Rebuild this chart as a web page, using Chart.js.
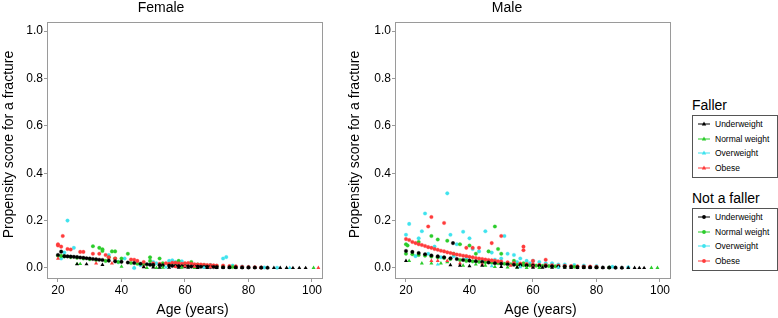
<!DOCTYPE html>
<html>
<head>
<meta charset="utf-8">
<script src="https://cdn.jsdelivr.net/npm/chart.js@4/dist/chart.umd.min.js"></script>
<style>
    body { margin: 0; background: #fff; font-family: "Liberation Sans", Arial, sans-serif; }
    #wrap { position: relative; width: 778px; height: 318px; overflow: hidden; }
    canvas { position: absolute; top: 0; }
    .lg-title { position: absolute; left: 692px; font-size: 14px; color: #000; line-height: 16px; }
    .lg-box { position: absolute; left: 692px; width: 84px; height: 61px; border: 1px solid #555; }
    .lg-row { position: absolute; left: 5px; height: 12px; font-size: 8.5px; color: #000; line-height: 12px; white-space: nowrap; }
    .lg-row svg { position: absolute; left: 0; top: 0; }
    .lg-row span { position: absolute; left: 17px; top: 0; }
</style>
</head>
<body>
<div id="wrap">
    <canvas id="female" width="335" height="318" style="left:0px"></canvas>
    <canvas id="male" width="340" height="318" style="left:344px"></canvas>
    <div id="legend"></div>
</div>
<script>
// Axis settings
const xTicks = [20, 40, 60, 80, 100];
const yTicks = [0, 0.2, 0.4, 0.6, 0.8, 1.0];
const groups = ['Underweight', 'Normal weight', 'Overweight', 'Obese'];
const groupColors = ['#000000', '#2bcc2b', '#3fe3ee', '#ff3b3b'];

// Female - fallers (triangles), [age, score]
const femaleFallerUnder = [[26,0.016],[29,0.016],[34,0.013],[47,0.004],[50,0.003],[52,0.002],[55,0.002],[58,0.002],[61,0.002],[64,0.001],[67,0.001],[70,0.001],[72,0.001],[74,0.001],[76,0.001],[78,0.001],[80,0.001],[82,0.001],[84,0.001],[86,0.001],[88,0.0005],[90,0.0005],[92,0.0005],[94,0.0003],[96,0.0003],[98,0.0002]];
const femaleFallerNormal = [[26,0.017],[27,0.017],[40,0.006],[48,0.001],[51,0.001],[53,0.002],[59,0.002],[63,0.001],[100.5,0.0005]];
const femaleFallerOver = [[44,0.001],[54,0.003],[66,0.002],[93,0.001]];
const femaleFallerObese = [[20,0.04],[32,0.02],[37,0.02],[47,0.006],[57,0.005],[60,0.008],[63,0.006],[68,0.004],[102,0.0005]];

// Female - non-fallers (dots)
const femaleNonUnder = [[20,0.055],[21,0.069],[22,0.05],[23,0.049],[24,0.048],[25,0.047],[26,0.046],[27,0.044],[28,0.043],[29,0.041],[30,0.04],[31,0.038],[32,0.037],[33,0.035],[34,0.034],[36,0.031],[38,0.028],[40,0.026],[42,0.023],[44,0.021],[46,0.018],[48,0.016],[49,0.014],[50,0.013],[52,0.012],[53,0.011],[55,0.01],[56,0.009],[57,0.008],[58,0.008],[59,0.007],[60,0.007],[61,0.007],[62,0.006],[63,0.006],[64,0.006],[65,0.005],[66,0.005],[67,0.005],[68,0.004],[69,0.004],[70,0.004],[72,0.003],[74,0.003],[76,0.003],[78,0.002],[80,0.002],[82,0.002],[84,0.0015],[86,0.001]];
const femaleNonNormal = [[20,0.052],[21,0.051],[22,0.049],[24,0.046],[26,0.043],[28,0.04],[30,0.037],[31,0.092],[32,0.034],[33,0.085],[34,0.079],[34,0.072],[35,0.03],[36,0.045],[37,0.07],[38,0.07],[38,0.04],[39,0.025],[40,0.04],[42,0.06],[43,0.021],[45,0.018],[47,0.015],[49,0.045],[49,0.03],[50,0.012],[52,0.04],[53,0.02],[55,0.015],[57,0.02],[58,0.03],[60,0.018],[62,0.025],[64,0.015],[66,0.012],[68,0.01],[70,0.008],[72,0.006],[75,0.004]];
const femaleNonOver = [[21,0.04],[22,0.065],[23,0.2],[25,0.085],[36,0.055],[39,0.025],[41,0.04],[44,0.0],[46,0.012],[49,0.015],[50,0.025],[51,0.02],[53,0.01],[55,0.03],[56,0.032],[57,0.025],[58,0.02],[59,0.028],[60,0.015],[62,0.02],[64,0.012],[65,0.01],[68,0.012],[70,0.008],[72,0.04],[73,0.046],[75,0.01],[78,0.006],[80,0.004],[85,0.002],[89,0.001]];
const femaleNonObese = [[20,0.1],[20,0.095],[21,0.09],[21.5,0.135],[23,0.08],[24,0.078],[27,0.068],[28,0.068],[31,0.06],[33,0.06],[35,0.055],[36,0.045],[38,0.04],[43,0.036],[44,0.035],[45,0.03],[47,0.025],[50,0.02],[52,0.018],[54,0.02],[55,0.018],[56,0.022],[57,0.022],[58,0.02],[59,0.018],[60,0.02],[61,0.021],[62,0.018],[63,0.016],[64,0.015],[65,0.015],[66,0.014],[67,0.012],[68,0.012],[69,0.011],[70,0.01],[72,0.01],[74,0.008],[76,0.007],[78,0.005],[80,0.004],[82,0.003],[84,0.002]];

// Male - fallers (triangles)
const maleFallerUnder = [[20,0.03],[34,0.012],[37,0.01],[40,0.008],[44,0.01],[50,0.005],[55,0.003],[60,0.002],[63,0.002],[66,0.002],[70,0.002],[72,0.001],[74,0.001],[76,0.001],[78,0.001],[80,0.001],[82,0.001],[84,0.001],[86,0.001],[88,0.0005],[90,0.0005],[92,0.0005],[93.5,0.0003],[95,0.0003]];
const maleFallerNormal = [[21,0.03],[25,0.02],[28,0.02],[31,0.02],[33,0.025],[38,0.01],[42,0.015],[45,0.01],[48,0.005],[52,0.003],[55,0.002],[58,0.001],[62,0.001],[97.3,0.0005],[99.2,0.0005]];
const maleFallerOver = [[30,0.015],[47,0.008],[56,0.004],[68,0.002]];
const maleFallerObese = [[28,0.03],[30,0.03],[33,0.03],[37,0.02],[44,0.015],[53,0.01],[60,0.005]];

// Male - non-fallers (dots)
const maleNonUnder = [[20,0.072],[22,0.068],[24,0.063],[26,0.058],[28,0.053],[30,0.049],[32,0.045],[34,0.041],[34.8,0.105],[36,0.038],[38,0.034],[40,0.031],[42,0.028],[44,0.025],[46,0.023],[48,0.02],[50,0.018],[52,0.016],[54,0.014],[56,0.012],[58,0.011],[60,0.01],[62,0.009],[64,0.008],[66,0.007],[68,0.006],[70,0.006],[72,0.005],[74,0.004],[76,0.004],[78,0.003],[80,0.003],[82,0.002],[84,0.002],[86,0.0015],[88,0.001]];
const maleNonNormal = [[20,0.1],[20.5,0.095],[20,0.06],[22,0.058],[24,0.11],[24,0.055],[26,0.052],[28,0.135],[28,0.048],[30,0.12],[30,0.045],[32,0.042],[33,0.115],[34,0.038],[35,0.06],[37,0.1],[37,0.034],[39,0.03],[40,0.095],[41,0.028],[42,0.06],[43,0.026],[45,0.024],[46,0.07],[47,0.022],[48,0.175],[49,0.08],[49,0.02],[50,0.06],[51,0.018],[53,0.016],[54,0.03],[55,0.014],[57,0.02],[57,0.012],[59,0.011],[61,0.01],[63,0.009],[65,0.008],[67,0.007],[70,0.006],[73,0.005],[76,0.004],[80,0.003],[84,0.002]];
const maleNonOver = [[20,0.14],[21,0.186],[23,0.05],[24,0.125],[25,0.155],[26,0.23],[27,0.06],[29,0.09],[31,0.045],[33,0.315],[34,0.14],[35,0.05],[36,0.1],[38,0.153],[39,0.04],[40,0.125],[41,0.08],[43,0.07],[44,0.03],[45,0.155],[47,0.065],[48,0.035],[50,0.04],[51,0.135],[52,0.06],[54,0.055],[55,0.025],[56,0.04],[58,0.03],[59,0.02],[60,0.03],[62,0.025],[64,0.02],[66,0.02],[68,0.015],[70,0.015],[73,0.012],[76,0.01],[80,0.008],[85,0.005],[90,0.003]];
const maleNonObese = [[20,0.122],[21,0.118],[22,0.11],[23,0.105],[24,0.1],[25,0.097],[26,0.093],[27,0.088],[27,0.175],[28,0.085],[28,0.215],[29,0.08],[30,0.077],[31,0.073],[32,0.07],[32,0.19],[33,0.066],[34,0.063],[35,0.06],[36,0.057],[37,0.055],[38,0.052],[39,0.085],[39,0.05],[40,0.047],[41,0.085],[41,0.045],[42,0.042],[43,0.085],[43,0.04],[44,0.038],[45,0.036],[46,0.034],[47,0.105],[47,0.032],[48,0.03],[49,0.028],[50,0.135],[50,0.027],[52,0.024],[54,0.021],[56,0.019],[57,0.09],[57,0.075],[58,0.017],[60,0.03],[60,0.015],[62,0.013],[64,0.035],[64,0.012],[66,0.011],[68,0.01],[70,0.009],[72,0.008],[74,0.007],[76,0.006],[78,0.006],[80,0.005]];

const femaleFallers = [femaleFallerUnder, femaleFallerNormal, femaleFallerOver, femaleFallerObese];
const femaleNon = [femaleNonUnder, femaleNonNormal, femaleNonOver, femaleNonObese];
const maleFallers = [maleFallerUnder, maleFallerNormal, maleFallerOver, maleFallerObese];
const maleNon = [maleNonUnder, maleNonNormal, maleNonOver, maleNonObese];

const AXIS_GREY = '#9a9a9a';
const TEXT = '#000';
const FONT = '"Liberation Sans", Arial, sans-serif';

// Grey frame around the plotting area plus the two axis titles
// (the titles sit a little off centre in the original, so they are drawn here)
const framePlugin = {
    id: 'frame',
    afterDraw(chart, args, opts) {
        const { ctx, chartArea: a } = chart;
        ctx.save();
        ctx.strokeStyle = AXIS_GREY;
        ctx.lineWidth = 1;
        ctx.strokeRect(Math.round(a.left) + 0.5, Math.round(a.top) + 0.5,
            Math.round(a.right - a.left), Math.round(a.bottom - a.top));

        ctx.fillStyle = TEXT;
        ctx.font = '14px ' + FONT;
        ctx.textAlign = 'center';
        ctx.textBaseline = 'middle';
        ctx.fillText('Age (years)', (a.left + a.right) / 2 + 8, 310);

        ctx.translate(opts.yTitleX, (a.top + a.bottom) / 2 - 5.5);
        ctx.rotate(-Math.PI / 2);
        ctx.fillText('Propensity score for a fracture', 0, 0);
        ctx.restore();
    }
};

function buildDatasets(fallers, nonFallers) {
    const sets = [];
    // chart.js draws index 0 on top, so black goes first
    [0, 3, 1, 2].forEach(i => {
        sets.push({
            label: 'Faller ' + groups[i],
            data: fallers[i].map(p => ({ x: p[0], y: p[1] })),
            pointStyle: 'triangle',
            pointRadius: 2.3,
            borderWidth: 0,
            backgroundColor: groupColors[i],
            borderColor: groupColors[i]
        });
    });
    [0, 3, 1, 2].forEach(i => {
        sets.push({
            label: 'Not a faller ' + groups[i],
            data: nonFallers[i].map(p => ({ x: p[0], y: p[1] })),
            pointStyle: 'circle',
            pointRadius: 1.8,
            borderWidth: 0.6,
            backgroundColor: groupColors[i],
            borderColor: groupColors[i] + '77'
        });
    });
    return sets;
}

function makePanel(canvasId, title, fallers, nonFallers, yWidth, yTitleX, rightPad) {
    const canvas = document.getElementById(canvasId);
    return new Chart(canvas, {
        type: 'scatter',
        data: { datasets: buildDatasets(fallers, nonFallers) },
        options: {
            responsive: false,
            animation: false,
            devicePixelRatio: 1,
            layout: { padding: { top: 0, right: rightPad, bottom: 0, left: 0 } },
            plugins: {
                legend: { display: false },
                tooltip: { enabled: false },
                frame: { yTitleX: yTitleX },
                title: {
                    display: true,
                    text: title,
                    color: TEXT,
                    font: { family: FONT, size: 14, weight: 'normal', lineHeight: 1.2 },
                    padding: { top: 0, bottom: 5.2 }
                }
            },
            scales: {
                x: {
                    type: 'linear',
                    min: 16.54,
                    max: 103.15,
                    afterBuildTicks: scale => { scale.ticks = xTicks.map(v => ({ value: v })); },
                    afterFit: scale => { scale.height = 40; },
                    grid: { drawOnChartArea: false, drawTicks: true, tickLength: 4, color: AXIS_GREY },
                    border: { display: false },
                    ticks: {
                        color: TEXT,
                        padding: 1,
                        maxRotation: 0,
                        font: { family: FONT, size: 12 }
                    }
                },
                y: {
                    type: 'linear',
                    min: -0.0422,
                    max: 1.038,
                    afterBuildTicks: scale => { scale.ticks = yTicks.map(v => ({ value: v })); },
                    afterFit: scale => { scale.width = yWidth; },
                    grid: { drawOnChartArea: false, drawTicks: true, tickLength: 3, color: AXIS_GREY },
                    border: { display: false },
                    ticks: {
                        color: TEXT,
                        padding: 1,
                        font: { family: FONT, size: 12 },
                        callback: v => Number(v).toFixed(1)
                    }
                }
            }
        },
        plugins: [framePlugin]
    });
}

makePanel('female', 'Female', femaleFallers, femaleNon, 47, 9.5, 13);
makePanel('male', 'Male', maleFallers, maleNon, 51, 11.5, 14);

// Legend: two titled boxes
function legendBlock(title, titleTop, boxTop, marker) {
    const legend = document.getElementById('legend');
    const t = document.createElement('div');
    t.className = 'lg-title';
    t.style.top = titleTop + 'px';
    t.textContent = title;
    legend.appendChild(t);

    const box = document.createElement('div');
    box.className = 'lg-box';
    box.style.top = boxTop + 'px';
    groups.forEach((g, i) => {
        const row = document.createElement('div');
        row.className = 'lg-row';
        row.style.top = (2 + i * 14.6) + 'px';
        const c = groupColors[i];
        const m = marker === 'triangle'
            ? `<polygon points="6,3.6 8.2,7.6 3.8,7.6" fill="${c}"/>`
            : `<circle cx="6" cy="6" r="1.9" fill="${c}"/>`;
        row.innerHTML = `<svg width="14" height="12"><line x1="0" y1="6" x2="12" y2="6" stroke="${c}" stroke-width="1"/>${m}</svg><span>${g}</span>`;
        box.appendChild(row);
    });
    legend.appendChild(box);
}

legendBlock('Faller', 97, 115, 'triangle');
legendBlock('Not a faller', 190, 208, 'circle');
</script>
</body>
</html>
